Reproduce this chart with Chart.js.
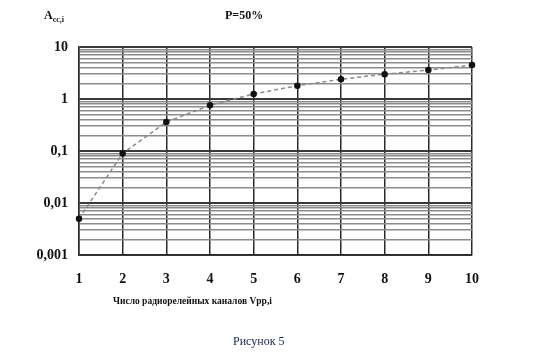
<!DOCTYPE html>
<html>
<head>
<meta charset="utf-8">
<script src="https://cdn.jsdelivr.net/npm/chart.js@4/dist/chart.umd.min.js"></script>
<style>
  body { margin: 0; background: #fff; }
  #wrap { position: relative; width: 534px; height: 364px; }
  .txt { position: absolute; font-family: "Liberation Serif", serif; color: #111; white-space: nowrap; }
</style>
</head>
<body>
<div id="wrap">
  <canvas id="chart" width="534" height="364"></canvas>
  <div class="txt" style="left:44px; top:8px; font-size:12px; font-weight:bold;">A<sub style="font-size:8px;">сс,i</sub></div>
  <div class="txt" style="left:225px; top:8px; font-size:12px; font-weight:bold;">P=50%</div>
  <div class="txt" style="left:113px; top:296px; font-size:9.5px; font-weight:bold;">Число радиорелейных каналов Vрр,i</div>
  <div class="txt" style="left:233px; top:334px; font-size:12px; color:#1a2350;">Рисунок 5</div>
</div>
<script>
// channels count
const categories = ["1", "2", "3", "4", "5", "6", "7", "8", "9", "10"];
// A_cc,i values
const values = [0.005, 0.09, 0.36, 0.76, 1.25, 1.8, 2.4, 3.0, 3.6, 4.5];
// decade ticks and their labels
const yDecades = [0.001, 0.01, 0.1, 1, 10];
const yTickLabels = ["0,001", "0,01", "0,1", "1", "10"];

const ctx = document.getElementById("chart").getContext("2d");

const chart = new Chart(ctx, {
  type: "line",
  data: {
    labels: categories,
    datasets: [
      {
        data: values,
        borderColor: "#8a8a8a",
        borderWidth: 1.5,
        borderDash: [4, 3],
        pointBackgroundColor: "#111",
        pointBorderColor: "#111",
        pointRadius: 2.5,
        tension: 0,
        fill: false,
      },
    ],
  },
  options: {
    responsive: false,
    animation: false,
    layout: {
      padding: { top: 47, right: 62, left: 0, bottom: 0 },
    },
    plugins: {
      legend: { display: false },
      tooltip: { enabled: false },
    },
    scales: {
      x: {
        offset: false,
        grid: {
          color: "#2a2a2a",
          lineWidth: 1.5,
          drawTicks: false,
        },
        border: { color: "#2a2a2a", width: 1.5 },
        ticks: {
          padding: 16,
          color: "#111",
          font: { family: "Liberation Serif", size: 14, weight: "bold" },
        },
        afterFit: (scale) => {
          scale.height = 109;
        },
      },
      y: {
        type: "logarithmic",
        min: 0.001,
        max: 10,
        afterBuildTicks: (scale) => {
          const ticks = [];
          yDecades.forEach((d, i) => {
            if (i === yDecades.length - 1) {
              ticks.push({ value: d, major: true });
              return;
            }
            for (let k = 1; k < 10; k++) {
              ticks.push({ value: +(d * k).toPrecision(3), major: k === 1 });
            }
          });
          scale.ticks = ticks;
        },
        grid: {
          drawTicks: false,
          color: (c) => (c.tick && c.tick.major ? "#3a3a3a" : "#8c8c8c"),
          lineWidth: (c) => (c.tick && c.tick.major ? 2 : 1.5),
        },
        border: { color: "#2a2a2a", width: 1.5 },
        ticks: {
          autoSkip: false,
          padding: 11,
          color: "#111",
          font: { family: "Liberation Serif", size: 14, weight: "bold" },
          callback: (value) => {
            const i = yDecades.findIndex((d) => Math.abs(d - value) < d * 1e-6);
            return i >= 0 ? yTickLabels[i] : "";
          },
        },
        afterFit: (scale) => {
          scale.width = 79;
        },
      },
    },
  },
});
</script>
</body>
</html>
